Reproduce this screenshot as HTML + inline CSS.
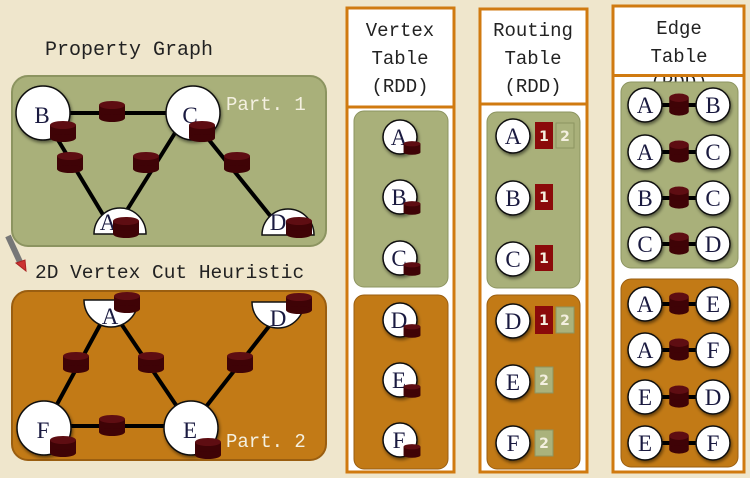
<!DOCTYPE html>
<html><head><meta charset="utf-8"><style>
html,body{margin:0;padding:0;background:#efe6cc;}
svg{display:block}
.mono{font-family:"Liberation Mono",monospace;}
.lbl{font-family:"Liberation Serif",serif;font-size:23px;fill:#1a1a40;text-anchor:middle}
.hdr{font-family:"Liberation Mono",monospace;font-size:19px;fill:#222;text-anchor:middle}
</style></head><body>
<svg width="750" height="478" viewBox="0 0 750 478" xmlns="http://www.w3.org/2000/svg">
<defs>
<g id="cyl">
<rect x="-13" y="-5" width="26" height="13" fill="#3f0306"/>
<ellipse cx="0" cy="8" rx="13" ry="4" fill="#3f0306"/>
<ellipse cx="0" cy="-5" rx="13" ry="4" fill="#5e0d12"/>
</g>
<filter id="sh" x="-30%" y="-30%" width="160%" height="160%"><feDropShadow dx="1" dy="2" stdDeviation="1.5" flood-opacity="0.5"/></filter>
</defs>
<rect width="750" height="478" fill="#efe6cc"/>

<text x="45" y="55" class="mono" font-size="20" fill="#222">Property Graph</text>
<text x="35" y="278" class="mono" font-size="19.5" fill="#222">2D Vertex Cut Heuristic</text>
<line x1="8" y1="236" x2="20" y2="262" stroke="#777" stroke-width="6"/>
<polygon points="16,263 25,260 26,271" fill="#c33" stroke="#a22"/>

<rect x="12" y="76" width="314" height="170" rx="16" fill="#a9b07a" stroke="#8c9460" stroke-width="2"/>
<g stroke="#000" stroke-width="4">
<line x1="43" y1="113" x2="193" y2="113"/>
<line x1="55" y1="135" x2="105" y2="218"/>
<line x1="175" y1="133" x2="122" y2="218"/>
<line x1="205" y1="135" x2="272" y2="218"/>
</g>
<circle cx="43" cy="113" r="27" fill="#fff" stroke="#111" stroke-width="1.5" filter="url(#sh)"/>
<circle cx="193" cy="113" r="27" fill="#fff" stroke="#111" stroke-width="1.5" filter="url(#sh)"/>
<path d="M94,234 A26,26 0 0 1 146,234 Z" fill="#fff" stroke="#111" stroke-width="1.5"/>
<path d="M262,235 A26,26 0 0 1 314,235 Z" fill="#fff" stroke="#111" stroke-width="1.5"/>
<text x="42" y="123" class="lbl">B</text>
<text x="190" y="123" class="lbl">C</text>
<text x="108" y="230" class="lbl">A</text>
<text x="278" y="230" class="lbl">D</text>
<use href="#cyl" x="112" y="110"/>
<use href="#cyl" x="63" y="130"/>
<use href="#cyl" x="202" y="130"/>
<use href="#cyl" x="70" y="161"/>
<use href="#cyl" x="146" y="161"/>
<use href="#cyl" x="237" y="161"/>
<use href="#cyl" x="126" y="226"/>
<use href="#cyl" x="299" y="226"/>
<text x="226" y="110" class="mono" font-size="19" fill="#f4f0e0">Part. 1</text>

<rect x="12" y="291" width="314" height="169" rx="16" fill="#c27a16" stroke="#9a5e10" stroke-width="2"/>
<g stroke="#000" stroke-width="4">
<line x1="43" y1="426" x2="193" y2="426"/>
<line x1="100" y1="325" x2="55" y2="408"/>
<line x1="122" y1="325" x2="178" y2="408"/>
<line x1="270" y1="325" x2="205" y2="408"/>
</g>
<path d="M84,300 A27,27 0 0 0 138,300 Z" fill="#fff" stroke="#111" stroke-width="1.5"/>
<path d="M252,302 A26,26 0 0 0 304,302 Z" fill="#fff" stroke="#111" stroke-width="1.5"/>
<circle cx="44" cy="428" r="27" fill="#fff" stroke="#111" stroke-width="1.5" filter="url(#sh)"/>
<circle cx="191" cy="428" r="27" fill="#fff" stroke="#111" stroke-width="1.5" filter="url(#sh)"/>
<text x="110" y="324" class="lbl">A</text>
<text x="278" y="326" class="lbl">D</text>
<text x="43" y="438" class="lbl">F</text>
<text x="190" y="438" class="lbl">E</text>
<use href="#cyl" x="127" y="301"/>
<use href="#cyl" x="299" y="302"/>
<use href="#cyl" x="76" y="361"/>
<use href="#cyl" x="151" y="361"/>
<use href="#cyl" x="240" y="361"/>
<use href="#cyl" x="112" y="424"/>
<use href="#cyl" x="63" y="445"/>
<use href="#cyl" x="208" y="447"/>
<text x="226" y="447" class="mono" font-size="19" fill="#f4f0e0">Part. 2</text>

<rect x="347" y="8" width="107" height="464" fill="#fff" stroke="#d07a10" stroke-width="3"/>
<line x1="347" y1="107" x2="454" y2="107" stroke="#d07a10" stroke-width="3"/>
<text x="400" y="36" class="hdr">Vertex</text>
<text x="400" y="64" class="hdr">Table</text>
<text x="400" y="92" class="hdr">(RDD)</text>
<rect x="354" y="111" width="94" height="176" rx="10" fill="#a9b07a" stroke="#8c9460"/>
<rect x="354" y="295" width="94" height="174" rx="10" fill="#c27a16" stroke="#9a5e10"/>
<g>
<circle cx="400" cy="137" r="17" fill="#fff" stroke="#111" stroke-width="1.5" filter="url(#sh)"/><text x="399" y="145" class="lbl" font-size="21">A</text>
<circle cx="400" cy="197" r="17" fill="#fff" stroke="#111" stroke-width="1.5" filter="url(#sh)"/><text x="399" y="205" class="lbl" font-size="21">B</text>
<circle cx="400" cy="258" r="17" fill="#fff" stroke="#111" stroke-width="1.5" filter="url(#sh)"/><text x="399" y="266" class="lbl" font-size="21">C</text>
<circle cx="400" cy="320" r="17" fill="#fff" stroke="#111" stroke-width="1.5" filter="url(#sh)"/><text x="399" y="328" class="lbl" font-size="21">D</text>
<circle cx="400" cy="380" r="17" fill="#fff" stroke="#111" stroke-width="1.5" filter="url(#sh)"/><text x="399" y="388" class="lbl" font-size="21">E</text>
<circle cx="400" cy="440" r="17" fill="#fff" stroke="#111" stroke-width="1.5" filter="url(#sh)"/><text x="399" y="448" class="lbl" font-size="21">F</text>
<use href="#cyl" transform="translate(412,147) scale(0.65)"/>
<use href="#cyl" transform="translate(412,207) scale(0.65)"/>
<use href="#cyl" transform="translate(412,268) scale(0.65)"/>
<use href="#cyl" transform="translate(412,330) scale(0.65)"/>
<use href="#cyl" transform="translate(412,390) scale(0.65)"/>
<use href="#cyl" transform="translate(412,450) scale(0.65)"/>
</g>

<rect x="480" y="9" width="107" height="463" fill="#fff" stroke="#d07a10" stroke-width="3"/>
<line x1="480" y1="104" x2="587" y2="104" stroke="#d07a10" stroke-width="3"/>
<text x="533" y="36" class="hdr">Routing</text>
<text x="533" y="64" class="hdr">Table</text>
<text x="533" y="92" class="hdr">(RDD)</text>
<rect x="487" y="112" width="93" height="176" rx="10" fill="#a9b07a" stroke="#8c9460"/>
<rect x="487" y="295" width="93" height="174" rx="10" fill="#c27a16" stroke="#9a5e10"/>
<g font-family="DejaVu Sans, sans-serif" font-size="14" font-weight="bold" fill="#f4f0e0" text-anchor="middle">
<rect x="535" y="122" width="18" height="27" fill="#8b0a0a"/><text x="544" y="141">1</text>
<rect x="556" y="123" width="18" height="25" fill="#aab27c" stroke="#8c9460"/><text x="565" y="141">2</text>
<rect x="535" y="184" width="18" height="26" fill="#8b0a0a"/><text x="544" y="202">1</text>
<rect x="535" y="245" width="18" height="26" fill="#8b0a0a"/><text x="544" y="263">1</text>
<rect x="535" y="306" width="18" height="28" fill="#8b0a0a"/><text x="544" y="325">1</text>
<rect x="556" y="307" width="18" height="26" fill="#aab27c" stroke="#8c9460"/><text x="565" y="325">2</text>
<rect x="535" y="367" width="18" height="26" fill="#aab27c" stroke="#8c9460"/><text x="544" y="385">2</text>
<rect x="535" y="430" width="18" height="26" fill="#aab27c" stroke="#8c9460"/><text x="544" y="448">2</text>
</g>
<g>
<circle cx="513" cy="136" r="17" fill="#fff" stroke="#111" stroke-width="1.5" filter="url(#sh)"/><text x="513" y="144" class="lbl" font-size="21">A</text>
<circle cx="513" cy="198" r="17" fill="#fff" stroke="#111" stroke-width="1.5" filter="url(#sh)"/><text x="513" y="206" class="lbl" font-size="21">B</text>
<circle cx="513" cy="259" r="17" fill="#fff" stroke="#111" stroke-width="1.5" filter="url(#sh)"/><text x="513" y="267" class="lbl" font-size="21">C</text>
<circle cx="513" cy="321" r="17" fill="#fff" stroke="#111" stroke-width="1.5" filter="url(#sh)"/><text x="513" y="329" class="lbl" font-size="21">D</text>
<circle cx="513" cy="382" r="17" fill="#fff" stroke="#111" stroke-width="1.5" filter="url(#sh)"/><text x="513" y="390" class="lbl" font-size="21">E</text>
<circle cx="513" cy="443" r="17" fill="#fff" stroke="#111" stroke-width="1.5" filter="url(#sh)"/><text x="513" y="451" class="lbl" font-size="21">F</text>
</g>

<rect x="613" y="6" width="131" height="466" fill="#fff" stroke="#d07a10" stroke-width="3"/>
<text x="679" y="34" class="hdr">Edge</text>
<text x="679" y="62" class="hdr">Table</text>
<text x="679" y="88" class="hdr" fill="#999">(RDD)</text>
<rect x="612" y="74" width="132" height="3" fill="#d07a10"/>
<rect x="621" y="82" width="117" height="186" rx="10" fill="#a9b07a" stroke="#8c9460"/>
<rect x="621" y="279" width="117" height="188" rx="10" fill="#c27a16" stroke="#9a5e10"/>
<g stroke="#000" stroke-width="4">
<line x1="646" y1="105" x2="712" y2="105"/><line x1="646" y1="152" x2="712" y2="152"/>
<line x1="646" y1="198" x2="712" y2="198"/><line x1="646" y1="244" x2="712" y2="244"/>
<line x1="646" y1="304" x2="712" y2="304"/><line x1="646" y1="350" x2="712" y2="350"/>
<line x1="646" y1="397" x2="712" y2="397"/><line x1="646" y1="443" x2="712" y2="443"/>
</g>
<g fill="#fff" stroke="#111" stroke-width="1.5" filter="url(#sh)">
<circle cx="645" cy="105" r="17"/><circle cx="713" cy="105" r="17"/>
<circle cx="645" cy="152" r="17"/><circle cx="713" cy="152" r="17"/>
<circle cx="645" cy="198" r="17"/><circle cx="713" cy="198" r="17"/>
<circle cx="645" cy="244" r="17"/><circle cx="713" cy="244" r="17"/>
<circle cx="645" cy="304" r="17"/><circle cx="713" cy="304" r="17"/>
<circle cx="645" cy="350" r="17"/><circle cx="713" cy="350" r="17"/>
<circle cx="645" cy="397" r="17"/><circle cx="713" cy="397" r="17"/>
<circle cx="645" cy="443" r="17"/><circle cx="713" cy="443" r="17"/>
</g>
<use href="#cyl" transform="translate(679,103) scale(0.75,1.05)"/>
<use href="#cyl" transform="translate(679,150) scale(0.75,1.05)"/>
<use href="#cyl" transform="translate(679,196) scale(0.75,1.05)"/>
<use href="#cyl" transform="translate(679,242) scale(0.75,1.05)"/>
<use href="#cyl" transform="translate(679,302) scale(0.75,1.05)"/>
<use href="#cyl" transform="translate(679,348) scale(0.75,1.05)"/>
<use href="#cyl" transform="translate(679,395) scale(0.75,1.05)"/>
<use href="#cyl" transform="translate(679,441) scale(0.75,1.05)"/>
<text x="645" y="113" class="lbl" font-size="21">A</text><text x="713" y="113" class="lbl" font-size="21">B</text>
<text x="645" y="160" class="lbl" font-size="21">A</text><text x="713" y="160" class="lbl" font-size="21">C</text>
<text x="645" y="206" class="lbl" font-size="21">B</text><text x="713" y="206" class="lbl" font-size="21">C</text>
<text x="645" y="252" class="lbl" font-size="21">C</text><text x="713" y="252" class="lbl" font-size="21">D</text>
<text x="645" y="312" class="lbl" font-size="21">A</text><text x="713" y="312" class="lbl" font-size="21">E</text>
<text x="645" y="358" class="lbl" font-size="21">A</text><text x="713" y="358" class="lbl" font-size="21">F</text>
<text x="645" y="405" class="lbl" font-size="21">E</text><text x="713" y="405" class="lbl" font-size="21">D</text>
<text x="645" y="451" class="lbl" font-size="21">E</text><text x="713" y="451" class="lbl" font-size="21">F</text>
</svg>
</body></html>
